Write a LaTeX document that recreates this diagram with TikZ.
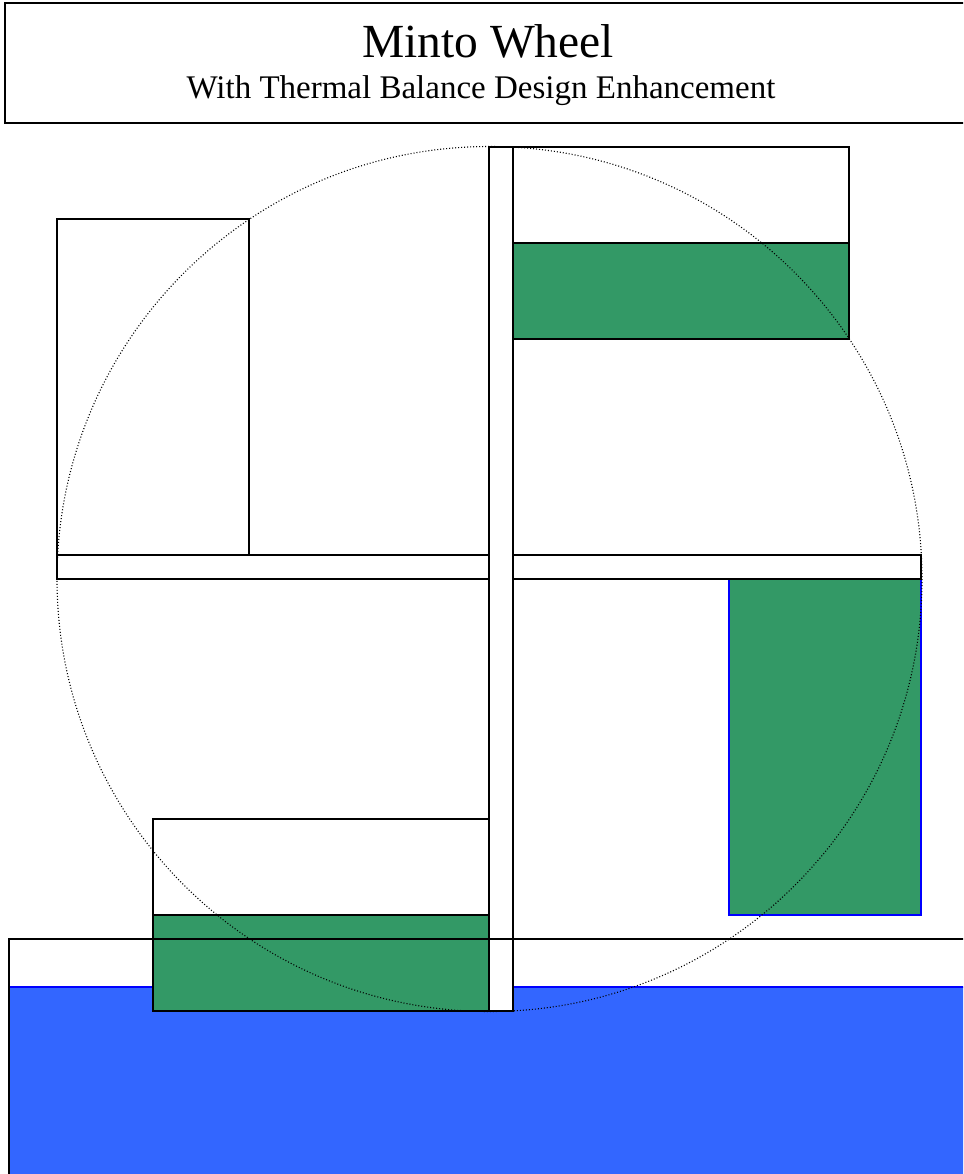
\documentclass[tikz,border=0pt]{standalone}
\usepackage{fontspec}
\setmainfont{Liberation Serif}
\definecolor{bucketgreen}{RGB}{51,153,102}
\definecolor{waterblue}{RGB}{51,102,255}
\tikzset{
  part/.style={draw=black, line width=1.4pt, fill=white},
  fullpart/.style={draw=black, line width=1.4pt, fill=bucketgreen},
  bluepart/.style={draw=blue, line width=1.4pt, fill=bucketgreen},
  outline/.style={draw=black, line width=1.4pt},
  wheel/.style={draw=black, line width=1.1pt, dash pattern=on 1pt off 2pt},
}
\begin{document}
\begin{tikzpicture}[x=1pt,y=-1pt]
\useasboundingbox (0,0) rectangle (963,1174);
\clip (0,0) rectangle (963,1174);
% title
\draw[outline] (5,3) rectangle (975,123);
\node[anchor=base, font=\fontsize{47.5}{50}\selectfont] (title) at (488,58) {Minto Wheel};
\node[anchor=base, font=\fontsize{33}{36}\selectfont] (subtitle) at (481,99) {With Thermal Balance Design Enhancement};
% water
\draw[draw=blue, line width=1.4pt, fill=waterblue] (9,987) rectangle (980,1190);
% buckets
\draw[part] (513,147) rectangle (849,339);
\draw[fullpart] (513,243) rectangle (849,339);
\draw[part] (57,219) rectangle (249,555);
\draw[bluepart] (729,579) rectangle (921,915);
\draw[part] (153,819) rectangle (489,1011);
\draw[fullpart] (153,915) rectangle (489,1011);
% spokes
\draw[part] (57,555) rectangle (921,579);
\draw[part] (489,147) rectangle (513,1011);
% water tank outline
\draw[outline] (9,939) rectangle (980,1190);
% wheel
\draw[wheel] (489.5,579) circle[radius=432.5];
\end{tikzpicture}
\end{document}
